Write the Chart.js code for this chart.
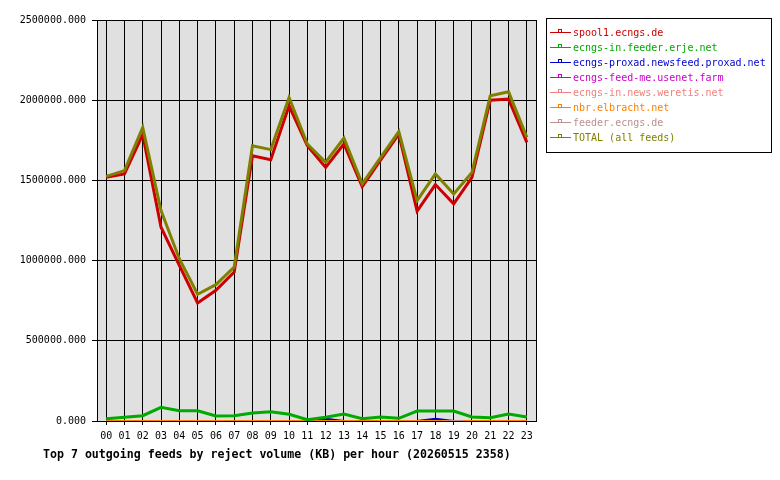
<!DOCTYPE html>
<html>
<head>
<meta charset="utf-8">
<script src="https://cdn.jsdelivr.net/npm/chart.js@4.4.1/dist/chart.umd.min.js"></script>
<style>
    body { margin: 0; background: #fff; }
    #wrap { position: relative; width: 780px; height: 480px; }
    #legend { position: absolute; left: 546px; top: 18px; width: 224px; height: 133px; border: 1px solid #000; font: 10px 'DejaVu Sans Mono', monospace; }
    .item { position: absolute; left: 3px; height: 15px; line-height: 15px; white-space: nowrap; }
    .swatch { position: absolute; left: 0; top: 7px; width: 21px; height: 0; border-top: 1px solid; }
    .swatch i { position: absolute; left: 8px; top: -4px; width: 2px; height: 2px; border: 1px solid; }
    .lbl { position: absolute; left: 23px; top: 0; }
    #title { position: absolute; left: 43px; top: 447px; font: bold 11.6px 'DejaVu Sans Mono', monospace; line-height: 14px; white-space: nowrap; }
</style>
</head>
<body>
<div id="wrap">
    <canvas id="chart1" width="780" height="480"></canvas>
    <div id="legend"></div>
    <div id="title">Top 7 outgoing feeds by reject volume (KB) per hour (20260515 2358)</div>
</div>
<script>
const hours = ['00','01','02','03','04','05','06','07','08','09','10','11','12','13','14','15','16','17','18','19','20','21','22','23'];

const feedNames = ['spool1.ecngs.de', 'ecngs-in.feeder.erje.net', 'ecngs-proxad.newsfeed.proxad.net',
    'ecngs-feed-me.usenet.farm', 'ecngs-in.news.weretis.net', 'nbr.elbracht.net', 'feeder.ecngs.de', 'TOTAL (all feeds)'];
const feedColors = ['#cc0000', '#00aa00', '#0000cc', '#cc00cc', '#f08080', '#ff8000', '#bc8f8f', '#808000'];

// KB per hour
const spool1 = [1519000, 1540000, 1785000, 1208000, 970000, 736000, 815000, 928000, 1654000, 1629000, 1965000, 1716000,
    1581000, 1727000, 1461000, 1627000, 1789000, 1308000, 1474000, 1354000, 1519000, 2000000, 2007000, 1737000];
const erje = [14000, 23000, 33000, 85000, 64000, 64000, 31000, 33000, 50000, 58000, 42000, 8000,
    23000, 43000, 14000, 25000, 17000, 62000, 62000, 62000, 25000, 20000, 43000, 25000];
const proxad = [0, 0, 0, 0, 0, 0, 0, 0, 0, 0, 0, 0, 14000, 0, 0, 0, 0, 0, 14000, 0, 0, 0, 0, 0];
const feedMe = [0, 0, 0, 0, 0, 0, 0, 0, 0, 0, 0, 0, 0, 0, 0, 0, 0, 0, 0, 0, 0, 0, 0, 0];
const weretis = [0, 0, 0, 0, 0, 0, 0, 0, 0, 0, 0, 0, 0, 0, 0, 0, 0, 0, 0, 0, 0, 0, 0, 0];
const elbracht = [0, 0, 0, 0, 0, 0, 0, 0, 0, 0, 0, 0, 0, 0, 0, 0, 0, 0, 0, 0, 0, 0, 0, 0];
const feederEcngs = [null, null, null, null, null, null, null, null, null, null, null, null,
    null, null, null, null, null, null, null, 0, null, null, null, null];
const total = [1525000, 1561000, 1830000, 1312000, 1012000, 790000, 850000, 960000, 1716000, 1692000, 2017000, 1727000,
    1613000, 1764000, 1478000, 1642000, 1805000, 1374000, 1540000, 1415000, 1550000, 2027000, 2052000, 1768000];

const seriesData = [spool1, erje, proxad, feedMe, weretis, elbracht, feederEcngs, total];
const lineWidths = [3, 3, 2, 2, 2, 2, 2, 3];
const drawOrder = [1, 2, 5, 6, 7, 4, 3, 0]; // lower = drawn on top

// legend (html)
const legend = document.getElementById('legend');
feedNames.forEach(function (name, i) {
    const row = document.createElement('div');
    row.className = 'item';
    row.style.top = (6 + i * 15) + 'px';
    row.style.color = feedColors[i];
    row.innerHTML = '<span class="swatch" style="border-color:' + feedColors[i] + '"><i style="border-color:' + feedColors[i] + '"></i></span><span class="lbl"></span>';
    row.querySelector('.lbl').textContent = name;
    legend.appendChild(row);
});

const plotFrame = {
    id: 'plotFrame',
    beforeDraw(chart) {
        const a = chart.chartArea;
        const c = chart.ctx;
        c.save();
        c.fillStyle = '#e0e0e0';
        c.fillRect(a.left, a.top, a.right - a.left, a.bottom - a.top);
        c.restore();
    },
    beforeDatasetsDraw(chart) {
        const a = chart.chartArea;
        const c = chart.ctx;
        c.save();
        c.strokeStyle = '#000';
        c.lineWidth = 1;
        c.beginPath();
        c.moveTo(Math.round(a.right) + 0.5, a.top);
        c.lineTo(Math.round(a.right) + 0.5, a.bottom);
        c.stroke();
        c.restore();
    }
};

Chart.defaults.font.family = "'DejaVu Sans Mono', monospace";
Chart.defaults.font.size = 10;
Chart.defaults.color = '#000';

const ctx1 = document.getElementById('chart1').getContext('2d');
const chart1 = new Chart(ctx1, {
    type: 'line',
    data: {
        labels: hours,
        datasets: seriesData.map(function (d, i) {
            const ds = {
                label: feedNames[i],
                data: d,
                borderColor: feedColors[i],
                backgroundColor: feedColors[i],
                borderWidth: lineWidths[i],
                pointRadius: 0,
                tension: 0,
                fill: false,
                order: drawOrder[i]
            };
            if (d === feederEcngs) {
                // only one reading, shown as a short flat dash
                ds.pointStyle = 'line';
                ds.pointRadius = 9;
                ds.pointBorderWidth = 2;
            }
            return ds;
        })
    },
    options: {
        responsive: false,
        animation: false,
        events: [],
        layout: { padding: { top: 20, right: 244, left: 0, bottom: 0 } },
        plugins: { legend: { display: false }, title: { display: false }, tooltip: { enabled: false } },
        scales: {
            x: {
                type: 'category',
                offset: true,
                grid: { offset: false, color: '#000', lineWidth: 1, tickLength: 4, tickColor: '#000' },
                border: { display: true, color: '#000', width: 1 },
                ticks: { autoSkip: false, maxRotation: 0, padding: 5 },
                afterFit: function (scale) { scale.height = 59; }
            },
            y: {
                min: 0,
                max: 2500000,
                grid: { color: '#000', lineWidth: 1, tickLength: 5, tickColor: '#000' },
                border: { display: true, color: '#000', width: 1 },
                ticks: {
                    stepSize: 500000,
                    padding: 6,
                    callback: function (v) { return Number(v).toFixed(3); }
                },
                afterFit: function (scale) { scale.width = 97; }
            }
        }
    },
    plugins: [plotFrame]
});
</script>
</body>
</html>
